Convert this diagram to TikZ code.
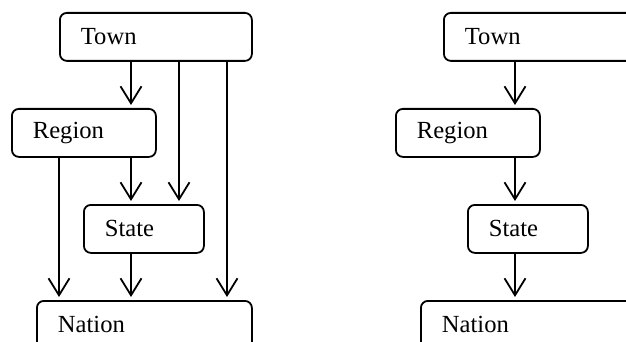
\documentclass[tikz,border=0pt]{standalone}
\usepackage{fontspec}
\setmainfont{Liberation Serif}
\usetikzlibrary{arrows.meta,positioning,calc}

\tikzset{
  box/.style={draw, line width=0.9pt, rounded corners=3.5pt, anchor=north west,
    minimum height=24pt, inner xsep=10.5pt, inner ysep=0pt, align=left,
    font=\fontsize{12.3}{14}\selectfont},
  arr/.style={line width=0.9pt, shorten >=1.5pt,
    -{Straight Barb[length=8.5pt,width=10.5pt,line width=0.9pt]}}
}

\begin{document}
\begin{tikzpicture}[x=0.5pt,y=-0.5pt]
\clip (0,0) rectangle (626,342);
% left hierarchy
\node[box,text width=75pt] (town) at (59,12) {Town};
\node[box,text width=51pt] (region) at (11,108) {Region};
\node[box,text width=39pt] (state) at (83,204) {State};
\node[box,text width=86.5pt] (nation) at (36,300) {Nation};
\coordinate (c1) at (59,0);
\coordinate (c2) at (131,0);
\coordinate (c3) at (179,0);
\coordinate (c4) at (227,0);
\draw[arr] (c2 |- town.south) -- (c2 |- region.north);
\draw[arr] (c3 |- town.south) -- (c3 |- state.north);
\draw[arr] (c4 |- town.south) -- (c4 |- nation.north);
\draw[arr] (c2 |- region.south) -- (c2 |- state.north);
\draw[arr] (c1 |- region.south) -- (c1 |- nation.north);
\draw[arr] (c2 |- state.south) -- (c2 |- nation.north);
% right hierarchy
\node[box,text width=75pt] (town2) at (443,12) {Town};
\node[box,text width=51pt] (region2) at (395,108) {Region};
\node[box,text width=39pt] (state2) at (467,204) {State};
\node[box,text width=86.5pt] (nation2) at (420,300) {Nation};
\coordinate (d2) at (515,0);
\draw[arr] (d2 |- town2.south) -- (d2 |- region2.north);
\draw[arr] (d2 |- region2.south) -- (d2 |- state2.north);
\draw[arr] (d2 |- state2.south) -- (d2 |- nation2.north);
\end{tikzpicture}
\end{document}
